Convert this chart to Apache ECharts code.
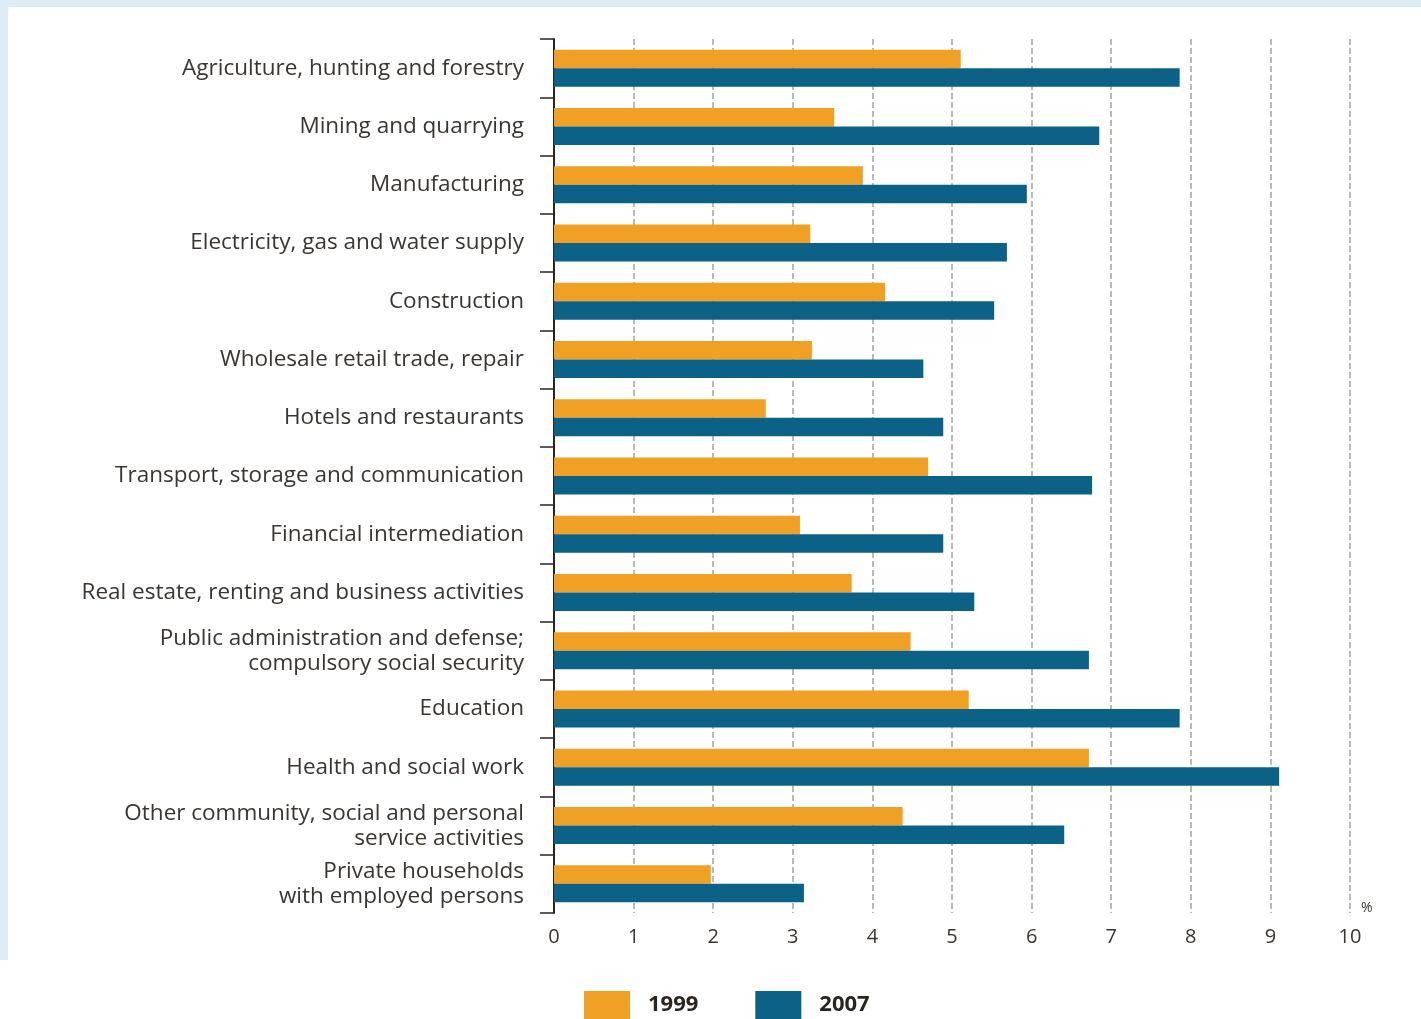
<!DOCTYPE html>
<html>
<head>
<meta charset="utf-8">
<script src="https://cdn.jsdelivr.net/npm/echarts@6/dist/echarts.min.js"></script>
<style>
html,body{margin:0;padding:0;background:#fff;}
#chart{width:1421px;height:1019px;}
</style>
</head>
<body>
<div id="chart"></div>
<script>
var categories = [
  "Agriculture, hunting and forestry",
  "Mining and quarrying",
  "Manufacturing",
  "Electricity, gas and water supply",
  "Construction",
  "Wholesale retail trade, repair",
  "Hotels and restaurants",
  "Transport, storage and communication",
  "Financial intermediation",
  "Real estate, renting and business activities",
  "Public administration and defense;\ncompulsory social security",
  "Education",
  "Health and social work",
  "Other community, social and personal\nservice activities",
  "Private households\nwith employed persons"
];
var values1999 = [5.11, 3.52, 3.88, 3.22, 4.16, 3.24, 2.66, 4.70, 3.09, 3.74, 4.48, 5.21, 6.72, 4.38, 1.97];
var values2007 = [7.86, 6.85, 5.94, 5.69, 5.53, 4.64, 4.89, 6.76, 4.89, 5.28, 6.72, 7.86, 9.11, 6.41, 3.14];
var seriesNames = ["1999", "2007"];
var xTicks = [0, 1, 2, 3, 4, 5, 6, 7, 8, 9, 10];

var chart = echarts.init(document.getElementById('chart'));
var font = "'Open Sans', sans-serif";
chart.setOption({
  animation: false,
  backgroundColor: '#ffffff',
  graphic: [
    {type: 'rect', left: 0, top: 0, shape: {width: 1421, height: 7}, style: {fill: '#deedf5'}, z: -10},
    {type: 'rect', left: 0, top: 0, shape: {width: 8, height: 960}, style: {fill: '#deedf5'}, z: -10},
    {type: 'text', left: 1361, top: 901, style: {text: '%', fontSize: 14, fill: '#3a3530', fontFamily: font}}
  ],
  grid: {left: 554, right: 71, top: 39, bottom: 106, containLabel: false},
  legend: {
    left: 584, top: 991, padding: 0,
    itemWidth: 46, itemHeight: 28, itemGap: 57,
    icon: 'rect',
    data: seriesNames,
    textStyle: {fontSize: 22, fontWeight: 'bold', color: '#2b2520', fontFamily: font, padding: [2, 0, 0, 13]}
  },
  xAxis: {
    type: 'value', min: xTicks[0], max: xTicks[xTicks.length - 1], interval: 1,
    axisLine: {show: false},
    axisTick: {show: false},
    axisLabel: {fontSize: 20, color: '#3a3530', fontFamily: font, margin: 14},
    splitLine: {show: true, lineStyle: {color: '#a8a49d', type: [6, 3], width: 1.5}}
  },
  yAxis: {
    type: 'category', data: categories, inverse: true,
    axisLine: {show: true, lineStyle: {color: '#2b2520', width: 2}},
    axisTick: {show: true, length: 14, lineStyle: {color: '#2b2520', width: 1.5}},
    axisLabel: {fontSize: 22.5, color: '#3a3530', fontFamily: font, margin: 30, lineHeight: 25, align: 'right'}
  },
  series: [
    {name: seriesNames[0], type: 'bar', data: values1999, barWidth: 18.5, barGap: '0%', itemStyle: {color: '#f0a125'}},
    {name: seriesNames[1], type: 'bar', data: values2007, barWidth: 18.5, barGap: '0%', itemStyle: {color: '#0c6186'}}
  ]
});
</script>
</body>
</html>
